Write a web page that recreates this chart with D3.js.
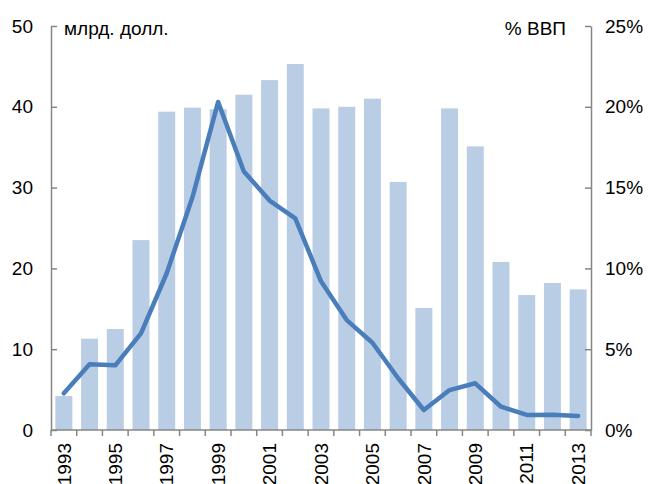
<!DOCTYPE html>
<html>
<head>
<meta charset="utf-8">
<script src="https://cdn.jsdelivr.net/npm/d3@7"></script>
<style>
  body { margin: 0; background: #fff; }
  text { font-family: Arial, "Liberation Sans", sans-serif; fill: #000; }
</style>
</head>
<body>
<div id="chart"></div>
<script>
// данные
var years = [1993, 1994, 1995, 1996, 1997, 1998, 1999, 2000, 2001, 2002, 2003,
             2004, 2005, 2006, 2007, 2008, 2009, 2010, 2011, 2012, 2013];
var usdBn = [4.2, 11.3, 12.5, 23.5, 39.4, 39.9, 39.7, 41.5, 43.3, 45.3, 39.8,
             40.0, 41.0, 30.7, 15.1, 39.8, 35.1, 20.8, 16.7, 18.2, 17.4];
var pctGdp = [2.27, 4.07, 4.0, 5.98, 9.7, 14.4, 20.3, 16.0, 14.2, 13.1, 9.2,
              6.8, 5.4, 3.2, 1.24, 2.47, 2.89, 1.44, 0.93, 0.95, 0.87];
var leftTicks = [0, 10, 20, 30, 40, 50];
var rightTicks = [0, 5, 10, 15, 20, 25];
var leftTitle = "млрд. долл.";
var rightTitle = "% ВВП";

var width = 652, height = 484;
var mLeft = 51, mRight = 591, mTop = 26, mBottom = 430;
var fontSize = 19;

var svg = d3.select("#chart").append("svg")
    .attr("width", width)
    .attr("height", height);

var x = d3.scaleBand()
    .domain(years)
    .range([mLeft, mRight])
    .paddingInner(0.34)
    .paddingOuter(0.17);

var yL = d3.scaleLinear().domain([0, 50]).range([mBottom, mTop]);
var yR = d3.scaleLinear().domain([0, 25]).range([mBottom, mTop]);

// столбцы
svg.append("g").selectAll("rect")
    .data(years)
    .enter().append("rect")
    .attr("x", function(d) { return x(d); })
    .attr("width", x.bandwidth())
    .attr("y", function(d, i) { return yL(usdBn[i]); })
    .attr("height", function(d, i) { return mBottom - yL(usdBn[i]); })
    .attr("fill", "#B9CDE5");

// линия
var line = d3.line()
    .x(function(d, i) { return x(years[i]) + x.bandwidth() / 2; })
    .y(function(d) { return yR(d); });

svg.append("path")
    .datum(pctGdp)
    .attr("d", line)
    .attr("fill", "none")
    .attr("stroke", "#4A7EBB")
    .attr("stroke-width", 4.5)
    .attr("stroke-linejoin", "round")
    .attr("stroke-linecap", "round");

// оси
var axisColor = "#868686";

var gL = svg.append("g")
    .attr("transform", "translate(" + mLeft + ",0)")
    .call(d3.axisLeft(yL).tickValues(leftTicks).tickSizeInner(-6).tickSizeOuter(0).tickPadding(18));

var gR = svg.append("g")
    .attr("transform", "translate(" + mRight + ",0)")
    .call(d3.axisRight(yR).tickValues(rightTicks).tickSizeInner(-6).tickSizeOuter(0).tickPadding(14)
        .tickFormat(function(d) { return d + "%"; }));

[gL, gR].forEach(function(g) {
    g.select(".domain").attr("stroke", axisColor).attr("stroke-width", 1.5);
    g.selectAll(".tick line").attr("stroke", axisColor).attr("stroke-width", 1.5);
    g.selectAll(".tick text").attr("font-size", fontSize).attr("fill", "#000");
    g.attr("font-family", null).attr("font-size", null);
});

// нижняя ось
var gB = svg.append("g");
gB.append("line")
    .attr("x1", mLeft).attr("x2", mRight)
    .attr("y1", mBottom).attr("y2", mBottom)
    .attr("stroke", axisColor).attr("stroke-width", 1.5);

gB.selectAll(".bt")
    .data(d3.range(years.length + 1))
    .enter().append("line")
    .attr("x1", function(i) { return mLeft + i * x.step(); })
    .attr("x2", function(i) { return mLeft + i * x.step(); })
    .attr("y1", mBottom)
    .attr("y2", mBottom + 6)
    .attr("stroke", axisColor).attr("stroke-width", 1.5);

gB.selectAll(".yl")
    .data(years.filter(function(d) { return d % 2 === 1; }))
    .enter().append("text")
    .attr("transform", function(d) {
        return "translate(" + (x(d) + x.bandwidth() / 2) + "," + (mBottom + 13) + ")rotate(-90)";
    })
    .attr("dy", "0.35em")
    .attr("text-anchor", "end")
    .attr("font-size", fontSize)
    .text(function(d) { return d; });

// подписи осей
svg.append("text")
    .attr("x", 64).attr("y", 35)
    .attr("font-size", fontSize)
    .text(leftTitle);

svg.append("text")
    .attr("x", 566).attr("y", 35)
    .attr("text-anchor", "end")
    .attr("font-size", fontSize)
    .text(rightTitle);
</script>
</body>
</html>
